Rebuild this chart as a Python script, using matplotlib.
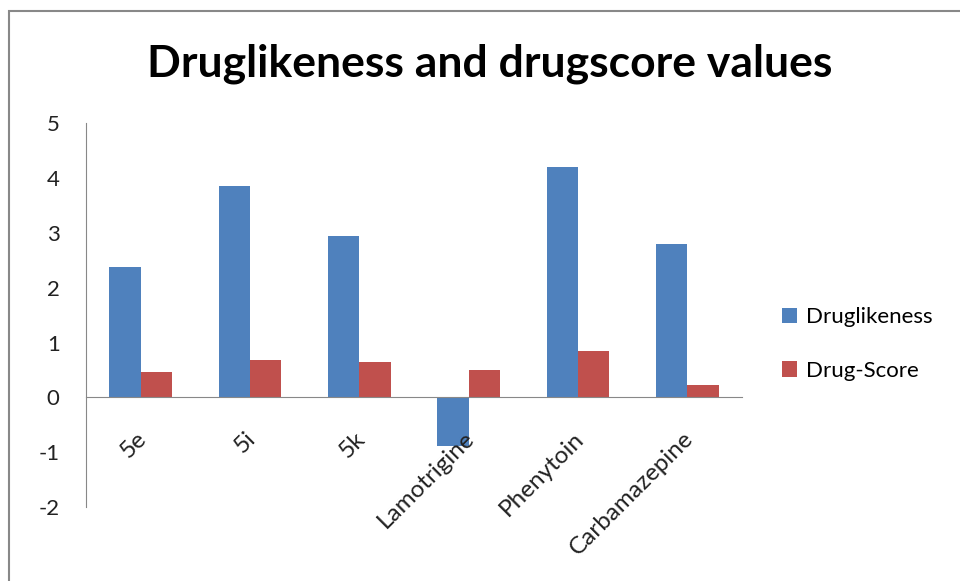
import numpy as np
import matplotlib.pyplot as plt
import matplotlib.transforms as mtransforms
from matplotlib.patches import Rectangle

compounds = ['5e', '5i', '5k', 'Lamotrigine', 'Phenytoin', 'Carbamazepine']
druglikeness = [2.38, 3.85, 2.94, -0.88, 4.20, 2.80]
drug_score = [0.47, 0.69, 0.64, 0.50, 0.85, 0.22]

blue = '#4F81BD'
red = '#C0504D'

plt.rcParams['font.family'] = ['Lato', 'DejaVu Sans']
plt.rcParams['axes.unicode_minus'] = False

fig = plt.figure(figsize=(9.6, 5.81), dpi=100)
ax = fig.add_axes([0.0896, 0.1274, 0.6834, 0.6604])

x = np.arange(len(compounds))
w = 0.286
ax.bar(x - w / 2, druglikeness, w, color=blue, label='Druglikeness')
ax.bar(x + w / 2, drug_score, w, color=red, label='Drug-Score')

ax.set_xlim(-0.5, len(compounds) - 0.5)
ax.set_ylim(-2, 5)
ax.set_yticks(range(-2, 6))
ax.tick_params(axis='y', length=0, pad=19, labelsize=16, colors='#222222')

for s in ['top', 'right']:
    ax.spines[s].set_visible(False)
ax.spines['left'].set_color('#888888')
ax.spines['bottom'].set_color('#888888')
ax.spines['bottom'].set_position(('data', 0))
ax.set_xticks(x)
ax.set_xticklabels(compounds, rotation=45, ha='right', va='top',
                   rotation_mode='anchor', fontsize=17.5, color='#222222')
ax.tick_params(axis='x', length=0, pad=22)
shift = mtransforms.ScaledTranslation(-5 / 100, 0, fig.dpi_scale_trans)
for lbl in ax.get_xticklabels():
    lbl.set_transform(lbl.get_transform() + shift)

ax.legend(loc='center left', bbox_to_anchor=(1.03, 0.425), frameon=False,
          fontsize=16, handlelength=0.7, handleheight=0.7, labelspacing=1.5,
          handletextpad=0.4)

fig.text(0.51, 0.89, 'Druglikeness and drugscore values', ha='center',
         va='center', fontsize=32, fontweight='bold')

# chart frame, cropped at the right and bottom
fig.patches.append(Rectangle((9 / 960, -0.1), 1.2, 1 - 11 / 581 + 0.1,
                             transform=fig.transFigure, fill=False,
                             edgecolor='#888888', linewidth=1.5))

fig.savefig('out.png', dpi=100)
